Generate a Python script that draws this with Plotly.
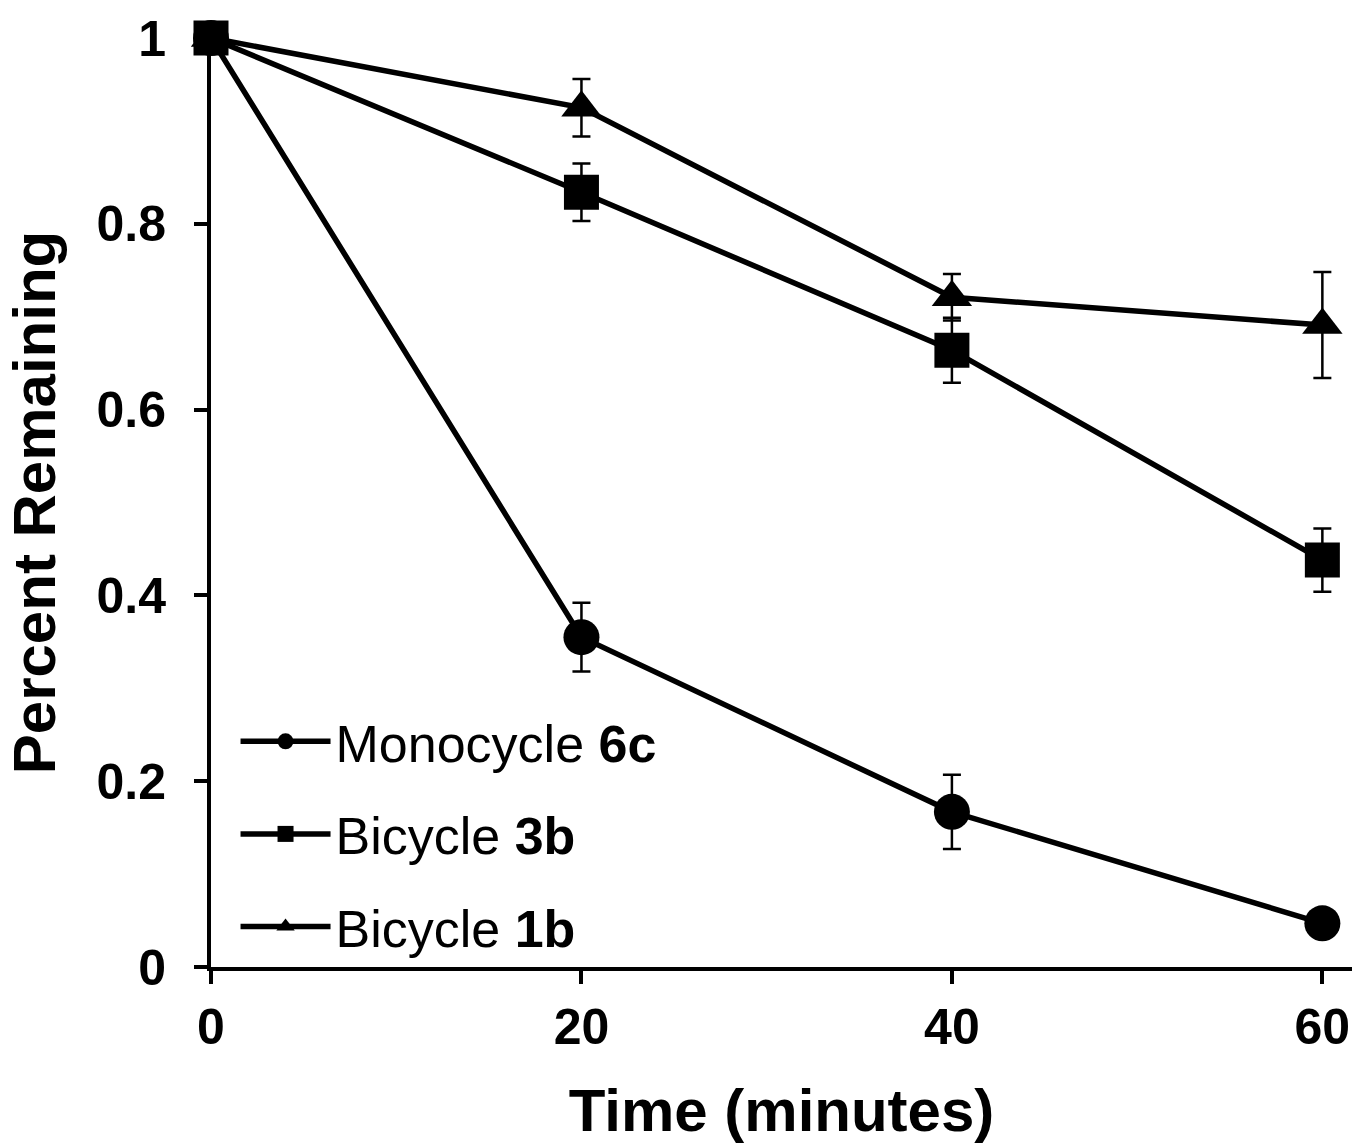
import plotly.graph_objects as go

time_min = [0, 20, 40, 60]

mono_6c = [1.0, 0.355, 0.167, 0.047]
mono_6c_err = [0.0, 0.037, 0.040, 0.006]

bi_3b = [1.0, 0.834, 0.664, 0.438]
bi_3b_err = [0.0, 0.031, 0.035, 0.034]

bi_1b = [1.0, 0.925, 0.721, 0.691]
bi_1b_err = [0.0, 0.031, 0.025, 0.057]

names = ["Monocycle <b>6c</b>", "Bicycle <b>3b</b>", "Bicycle <b>1b</b>"]
symbols = ["circle", "square", "triangle-up"]
sizes = [36, 35, 35]
series = [mono_6c, bi_3b, bi_1b]
errors = [mono_6c_err, bi_3b_err, bi_1b_err]

FONT = "Arial, 'Liberation Sans', Helvetica, sans-serif"

fig = go.Figure()
for i, (nm, sym, sz, ys, es) in enumerate(zip(names, symbols, sizes, series, errors)):
    fig.add_trace(go.Scatter(
        x=time_min, y=ys, name=nm, mode="lines+markers",
        line=dict(color="black", width=5.5),
        marker=dict(symbol=sym, size=sz, color="black"),
        error_y=dict(type="data", array=es, visible=True, color="black",
                     thickness=2.5, width=9),
        cliponaxis=False,
        legendgroup=f"g{i}",
    ))

fig.update_layout(
    width=1352, height=1148,
    margin=dict(l=211, r=0, t=38, b=181),
    paper_bgcolor="white", plot_bgcolor="white",
    font=dict(family=FONT, color="black"),
    showlegend=True,
    legend=dict(
        x=0.0215, y=0.0, xanchor="left", yanchor="bottom",
        bgcolor="rgba(0,0,0,0)",
        font=dict(size=52, family=FONT, color="black"),
        itemwidth=90, tracegroupgap=22,
        itemsizing="trace",
    ),
    xaxis=dict(
        range=[0, 61.6], tickvals=[0, 20, 40, 60],
        showline=True, linecolor="black", linewidth=4,
        ticks="outside", ticklen=13, tickwidth=4, tickcolor="black",
        showgrid=False, zeroline=False,
        tickfont=dict(size=50, family=FONT, color="black", weight="bold"),
        ticklabelstandoff=0,
        title=dict(text="<b>Time (minutes)</b>", font=dict(size=60, family=FONT, color="black"),
                   standoff=36),
    ),
    yaxis=dict(
        range=[0, 1], tickvals=[0, 0.2, 0.4, 0.6, 0.8, 1],
        ticktext=["0", "0.2", "0.4", "0.6", "0.8", "1"],
        showline=True, linecolor="black", linewidth=4,
        ticks="outside", ticklen=13, tickwidth=4, tickcolor="black",
        showgrid=False, zeroline=False,
        tickfont=dict(size=50, family=FONT, color="black", weight="bold"),
        ticklabelstandoff=18,
        title=dict(text="<b>Percent Remaining</b>", font=dict(size=60, family=FONT, color="black"),
                   standoff=22),
    ),
)

fig.write_html(
    "out.html",
    config={"displayModeBar": False},
    post_script="document.body.style.margin='0';document.body.style.overflow='hidden';",
)
